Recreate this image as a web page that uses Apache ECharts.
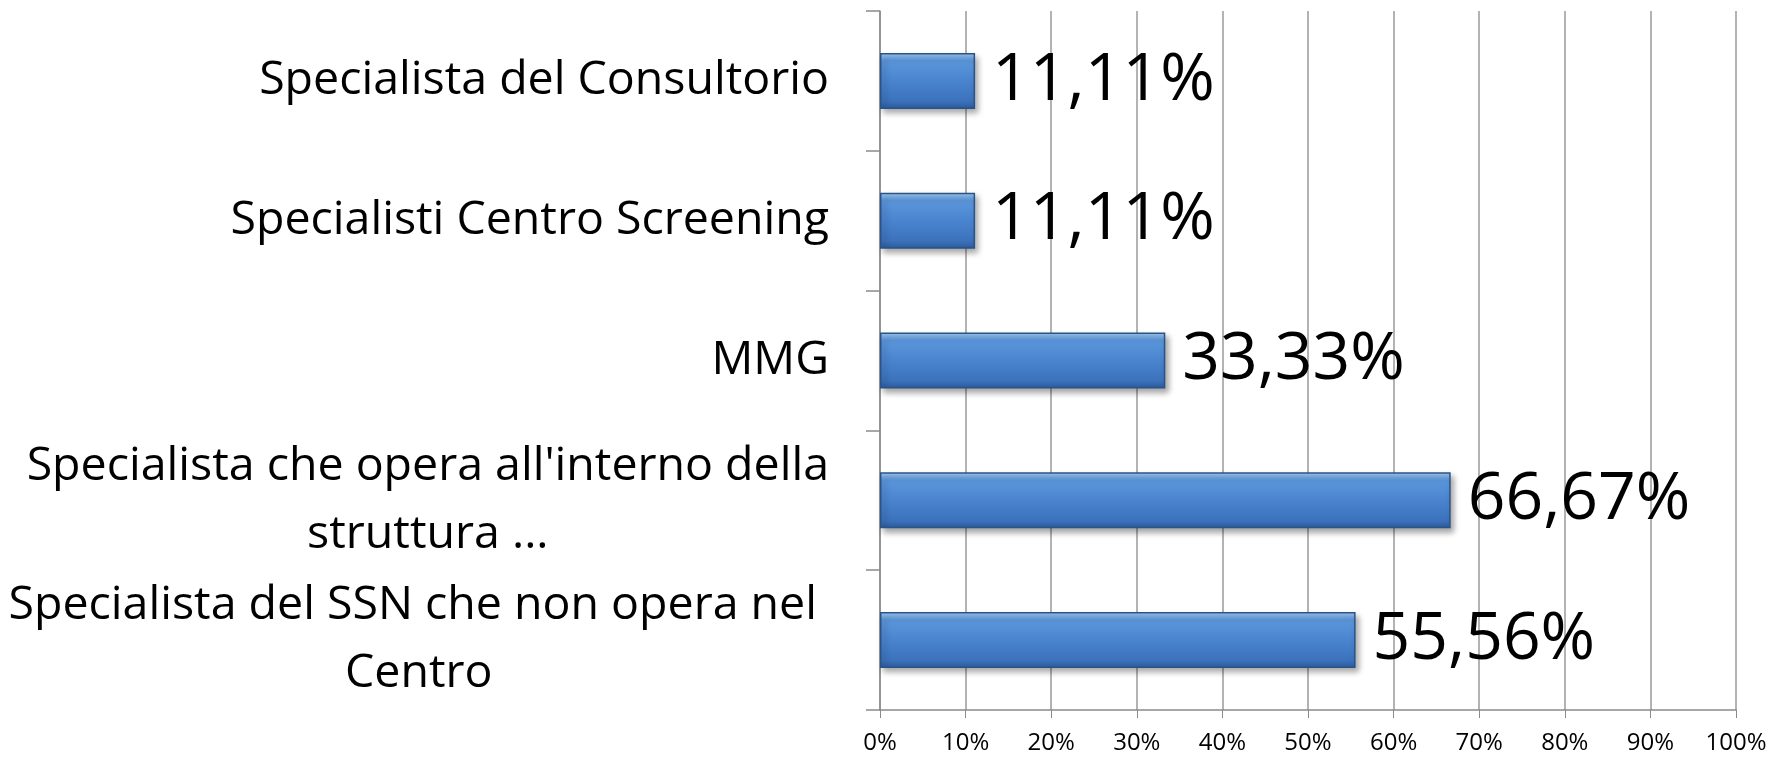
<!DOCTYPE html>
<html>
<head>
<meta charset="utf-8">
<script src="https://cdn.jsdelivr.net/npm/echarts@6/dist/echarts.min.js"></script>
<style>
  html, body { margin: 0; padding: 0; background: #fff; }
  #chart { width: 1783px; height: 757px; }
</style>
</head>
<body>
<div id="chart"></div>
<script>
// categories top to bottom
var categories = [
    'Specialista del Consultorio',
    'Specialisti Centro Screening',
    'MMG',
    "Specialista che opera all'interno della\nstruttura ...",
    'Specialista del SSN che non opera nel \nCentro'
];
var values = [11.11, 11.11, 33.33, 66.67, 55.56];
var xTicks = [0, 10, 20, 30, 40, 50, 60, 70, 80, 90, 100];

var chart = echarts.init(document.getElementById('chart'));

var barFill = new echarts.graphic.LinearGradient(0, 0, 0, 1, [
    {offset: 0, color: '#a2cbf3'},
    {offset: 0.14, color: '#5b97dc'},
    {offset: 0.5, color: '#4a84cf'},
    {offset: 0.86, color: '#3c72bc'},
    {offset: 1, color: '#2c5b9a'}
]);

var options = {
    animation: false,
    textStyle: {fontFamily: 'Open Sans'},
    grid: {
        left: 880,
        right: 47,
        top: 11,
        bottom: 47,
        outerBoundsMode: 'none'
    },
    xAxis: {
        type: 'value',
        min: xTicks[0],
        max: xTicks[xTicks.length - 1],
        interval: 10,
        axisLine: {show: true, lineStyle: {color: '#8a8a8a', width: 1.5}},
        axisTick: {show: true, length: 8, lineStyle: {color: '#8a8a8a'}},
        splitLine: {show: true, lineStyle: {color: '#9a9a9a', width: 1.5}},
        axisLabel: {
            formatter: '{value}%',
            fontSize: 24,
            color: '#000',
            margin: 21,
            fontFamily: 'Open Sans'
        }
    },
    yAxis: {
        type: 'category',
        inverse: true,
        data: categories,
        axisLine: {show: true, lineStyle: {color: '#8a8a8a', width: 1.5}},
        axisTick: {show: true, length: 14, lineStyle: {color: '#8a8a8a', width: 1.5}},
        axisLabel: {
            margin: 51,
            color: '#000',
            fontSize: 46.5,
            lineHeight: 68,
            fontFamily: 'Open Sans',
            formatter: function (v) {
                // each line centred inside the block, the block right-aligned at the axis
                return v.split('\n').map(function (s) { return '{c|' + s + '}'; }).join('\n');
            },
            rich: {
                c: {align: 'center', fontSize: 46.5, lineHeight: 68, color: '#000', fontFamily: 'Open Sans'}
            }
        }
    },
    series: [
        {
            type: 'bar',
            data: values,
            barWidth: 56,
            itemStyle: {
                color: barFill,
                borderColor: '#2a5488',
                borderWidth: 1.5,
                shadowColor: 'rgba(0,0,0,0.35)',
                shadowBlur: 6,
                shadowOffsetX: 3,
                shadowOffsetY: 4
            },
            label: {
                show: true,
                position: 'right',
                distance: 17,
                fontSize: 66,
                color: '#000',
                fontFamily: 'Open Sans',
                formatter: function (p) {
                    return p.value.toFixed(2).replace('.', ',') + '%';
                }
            }
        }
    ]
};

chart.setOption(options);
</script>
</body>
</html>
